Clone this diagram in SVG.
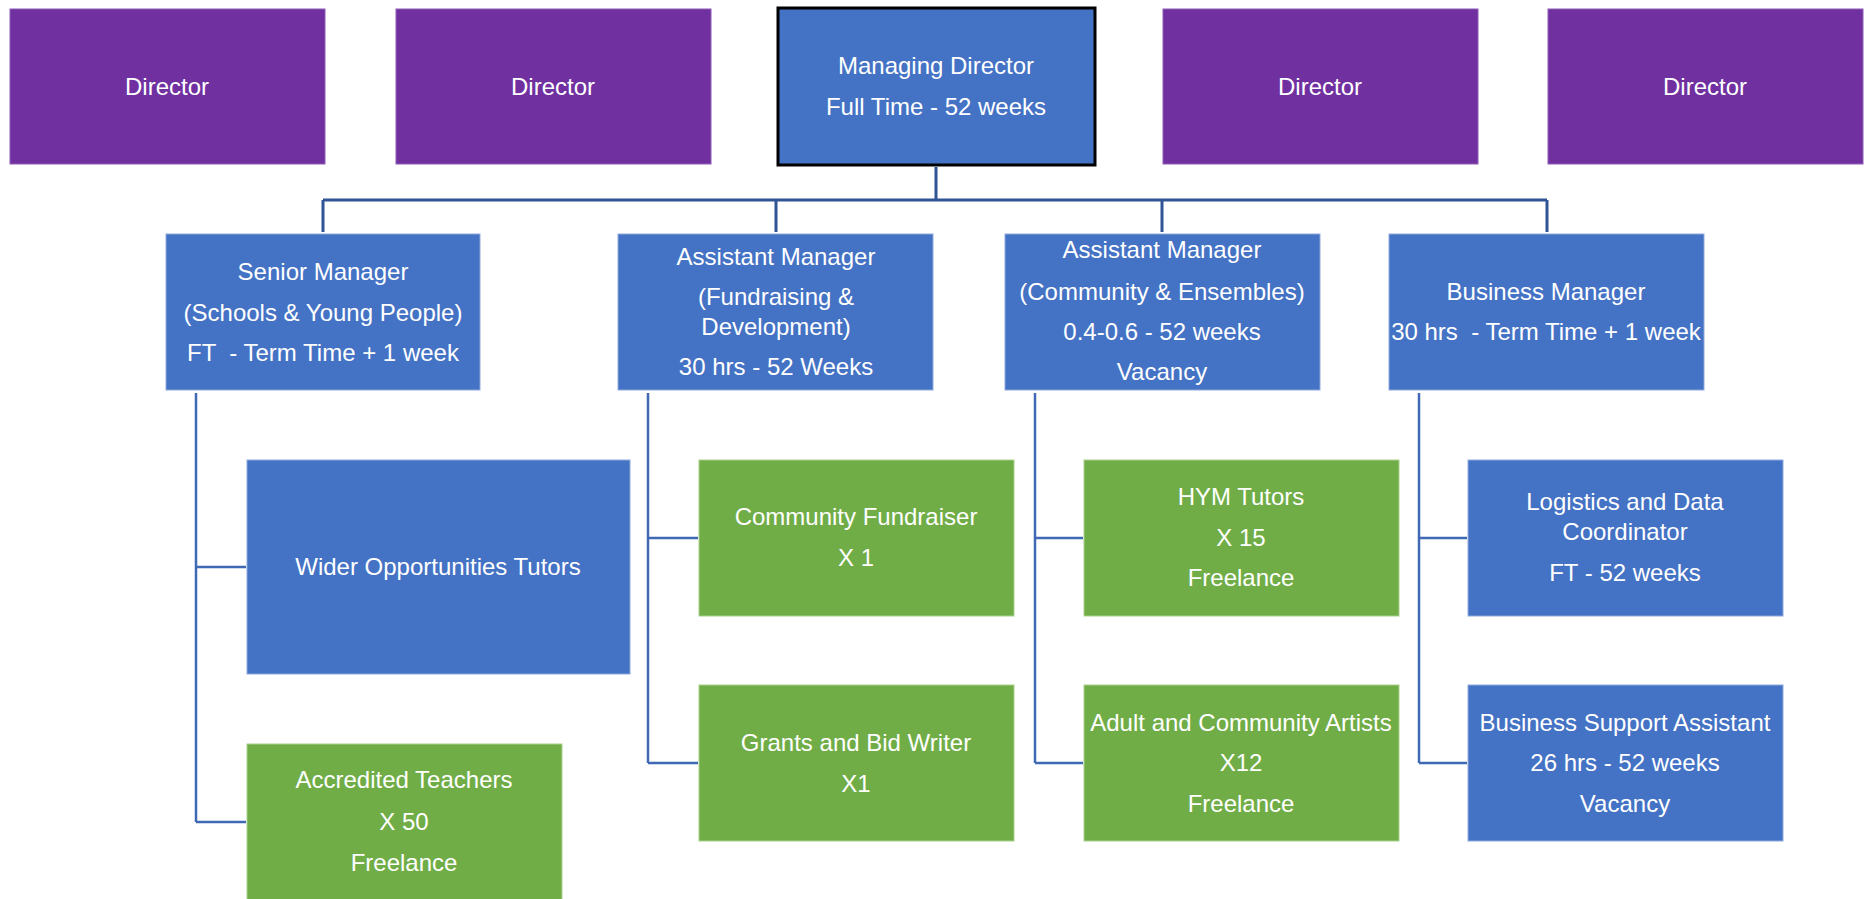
<svg xmlns="http://www.w3.org/2000/svg" width="1864" height="899" viewBox="0 0 1864 899">
<style>
.dir{fill:#7030A0;stroke:#8E5DB8;stroke-width:1}
.blue{fill:#4472C4;stroke:#8FAADC;stroke-width:1}
.green{fill:#70AD47;stroke:#A9D18E;stroke-width:1}
.md{fill:#4472C4;stroke:#000;stroke-width:3}
text{font-family:"Liberation Sans",Arial,sans-serif;font-size:24px;fill:#fff;text-anchor:middle;white-space:pre}
.con path{fill:none;stroke:#3F68B5;stroke-width:2.5}
.top path{stroke:#2F5597;stroke-width:3}
</style>
<rect width="1864" height="899" fill="#fff"/>
<g class="con" id="connectors">
  <g class="top">
    <path d="M936 167V200M323 200H1547M323 200V232M776 200V232M1162 200V232M1547 200V232"/>
  </g>
  <path d="M196 393V822M196 567H246M196 822H246"/>
  <path d="M648 393V763M648 538H698M648 763H698"/>
  <path d="M1035 393V763M1035 538H1083M1035 763H1083"/>
  <path d="M1419 393V763M1419 538H1467M1419 763H1467"/>
</g>
<g id="director1"><rect class="dir" x="10" y="9" width="315" height="155"/><text x="167" y="95">Director</text></g>
<g id="director2"><rect class="dir" x="396" y="9" width="315" height="155"/><text x="553" y="95">Director</text></g>
<g id="managing-director"><rect class="md" x="778" y="8" width="317" height="157"/><text x="936" y="74">Managing Director</text><text x="936" y="115">Full Time - 52 weeks</text></g>
<g id="director3"><rect class="dir" x="1163" y="9" width="315" height="155"/><text x="1320" y="95">Director</text></g>
<g id="director4"><rect class="dir" x="1548" y="9" width="315" height="155"/><text x="1705" y="95">Director</text></g>

<g id="senior-manager"><rect class="blue" x="166" y="234" width="314" height="156"/><text x="323" y="280">Senior Manager</text><text x="323" y="321">(Schools &amp; Young People)</text><text x="323" y="361">FT  - Term Time + 1 week</text></g>
<g id="assistant-manager-fd"><rect class="blue" x="618" y="234" width="315" height="156"/><text x="776" y="265">Assistant Manager</text><text x="776" y="305">(Fundraising &amp;</text><text x="776" y="335">Development)</text><text x="776" y="375">30 hrs - 52 Weeks</text></g>
<g id="assistant-manager-ce"><rect class="blue" x="1005" y="234" width="315" height="156"/><text x="1162" y="258">Assistant Manager</text><text x="1162" y="300">(Community &amp; Ensembles)</text><text x="1162" y="340">0.4-0.6 - 52 weeks</text><text x="1162" y="380">Vacancy</text></g>
<g id="business-manager"><rect class="blue" x="1389" y="234" width="315" height="156"/><text x="1546" y="300">Business Manager</text><text x="1546" y="340">30 hrs  - Term Time + 1 week</text></g>

<g id="wider-opportunities"><rect class="blue" x="247" y="460" width="383" height="214"/><text x="438" y="575">Wider Opportunities Tutors</text></g>
<g id="accredited-teachers"><rect class="green" x="247" y="744" width="315" height="160"/><text x="404" y="788">Accredited Teachers</text><text x="404" y="830">X 50</text><text x="404" y="871">Freelance</text></g>

<g id="community-fundraiser"><rect class="green" x="699" y="460" width="315" height="156"/><text x="856" y="525">Community Fundraiser</text><text x="856" y="566">X 1</text></g>
<g id="grants-writer"><rect class="green" x="699" y="685" width="315" height="156"/><text x="856" y="751">Grants and Bid Writer</text><text x="856" y="792">X1</text></g>

<g id="hym-tutors"><rect class="green" x="1084" y="460" width="315" height="156"/><text x="1241" y="505">HYM Tutors</text><text x="1241" y="546">X 15</text><text x="1241" y="586">Freelance</text></g>
<g id="adult-community"><rect class="green" x="1084" y="685" width="315" height="156"/><text x="1241" y="731">Adult and Community Artists</text><text x="1241" y="771">X12</text><text x="1241" y="812">Freelance</text></g>

<g id="logistics"><rect class="blue" x="1468" y="460" width="315" height="156"/><text x="1625" y="510">Logistics and Data</text><text x="1625" y="540">Coordinator</text><text x="1625" y="581">FT - 52 weeks</text></g>
<g id="business-support"><rect class="blue" x="1468" y="685" width="315" height="156"/><text x="1625" y="731">Business Support Assistant</text><text x="1625" y="771">26 hrs - 52 weeks</text><text x="1625" y="812">Vacancy</text></g>
</svg>
